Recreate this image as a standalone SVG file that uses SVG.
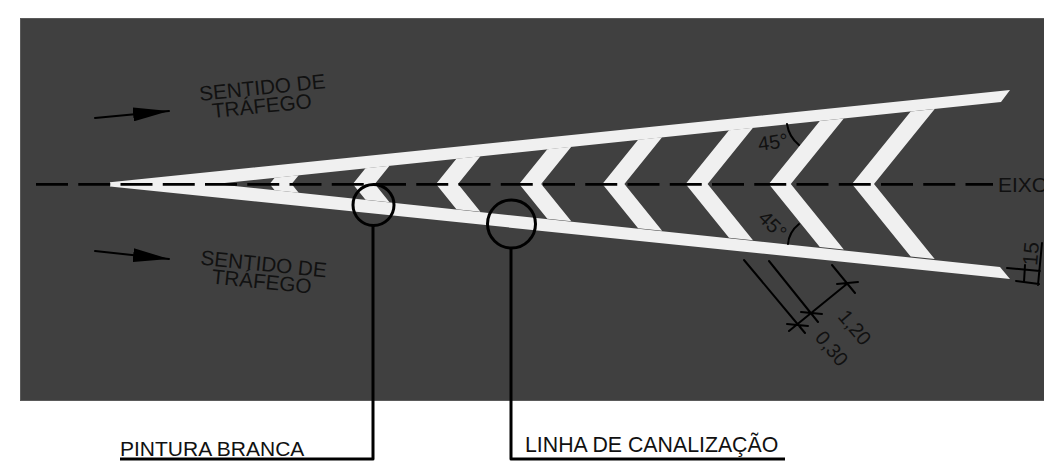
<svg xmlns="http://www.w3.org/2000/svg" width="1044" height="466" viewBox="0 0 1044 466">
<style>
.t{font-family:"Liberation Sans",Arial,sans-serif;fill:#111}
.p{fill:#f0f0f0}
.l{stroke:#000;fill:none;stroke-width:2;stroke-linecap:round}
.k{stroke:#000;fill:none;stroke-width:3}
</style>
<defs><marker id="a" markerUnits="userSpaceOnUse" markerWidth="36" markerHeight="14" refX="36" refY="7" orient="auto"><path d="M0 0L36 7L0 14Z" fill="#000"/></marker></defs>
<rect width="1044" height="466" fill="#fff"/>
<rect id="road" x="20.500" y="18.500" width="1030" height="382" fill="#404040" stroke="#5a5a5a"/>
<g id="paint">
<path class="p" d="M110 182.300L1010 90L1001 102L215 184L1000 267L1010 279L110 186.500Z"/>
<path class="p" d="M269.600 184L274.700 177.800L298.700 175.300L291.600 184L298.700 192.700L274.700 190.200Z"/>
<path class="p" d="M352.800 184L365.500 168.300L389.500 165.800L374.800 184L389.500 202.200L365.500 199.700Z"/>
<path class="p" d="M436 184L456.400 158.800L480.400 156.300L458 184L480.400 211.700L456.400 209.200Z"/>
<path class="p" d="M519.200 184L547.300 149.300L571.300 146.800L541.200 184L571.300 221.200L547.300 218.700Z"/>
<path class="p" d="M602.400 184L638.100 139.800L662.100 137.300L624.400 184L662.100 230.700L638.100 228.200Z"/>
<path class="p" d="M685.600 184L729 130.300L753 127.800L707.600 184L753 240.200L729 237.700Z"/>
<path class="p" d="M768.800 184L819.800 120.900L843.800 118.400L790.800 184L843.800 249.600L819.800 247.100Z"/>
<path class="p" d="M852 184L910.700 111.400L934.700 108.900L874 184L934.700 259.100L910.700 256.600Z"/>
</g>
<g id="connectors">
<path d="M36 184.300H993" stroke="#000" stroke-width="2.800" fill="none" stroke-dasharray="32 10.250"/>
<path class="l" d="M95 118L169 111" marker-end="url(#a)"/>
<path class="l" d="M95 251L169 259" marker-end="url(#a)"/>
<circle class="k" cx="373.500" cy="205" r="20.500"/>
<circle class="k" cx="511.500" cy="224" r="24"/>
<path class="k" stroke-linejoin="round" d="M373 226V459H120"/>
<path class="k" stroke-linejoin="round" d="M511 248V459H785"/>
<path class="l" d="M744 260L805 333M769 261L818 322M832 265L855 293M789 331L848 283M837 284L858 282M801 312L822 314M787 324L808 326M1016 281L1039 284M1007 268L1040 271M1025 265L1024 282M1042 243L1038 285"/>
<path class="l" d="M787 124Q789 137 799 145M788 244Q789 232 799 224"/>
</g>
<g id="labels">
<text class="t" font-size="20.700" text-anchor="middle" transform="translate(263 94.500) rotate(-5.800)">SENTIDO DE</text>
<text class="t" font-size="20.700" text-anchor="middle" transform="translate(262.500 113) rotate(-5.800)">TRÁFEGO</text>
<text class="t" font-size="20.700" text-anchor="middle" transform="translate(263 271) rotate(5.800)">SENTIDO DE</text>
<text class="t" font-size="20.700" text-anchor="middle" transform="translate(261 288.500) rotate(5.800)">TRÁFEGO</text>
<text class="t" font-size="21" x="120" y="456">PINTURA BRANCA</text>
<text class="t" font-size="21.300" x="525" y="452">LINHA DE CANALIZAÇÃO</text>
<text class="t" font-size="21" x="998" y="191.500">EIXO</text>
<text class="t" font-size="20" transform="translate(759 151) rotate(-8)">45°</text>
<text class="t" font-size="20" transform="translate(757 219) rotate(45)">45°</text>
<text class="t" font-size="20" transform="translate(837 317) rotate(50)">1,20</text>
<text class="t" font-size="20" transform="translate(814 338) rotate(50)">0,30</text>
<text class="t" font-size="21" transform="translate(1037 266) rotate(-85)">15</text>
</g>
</svg>
